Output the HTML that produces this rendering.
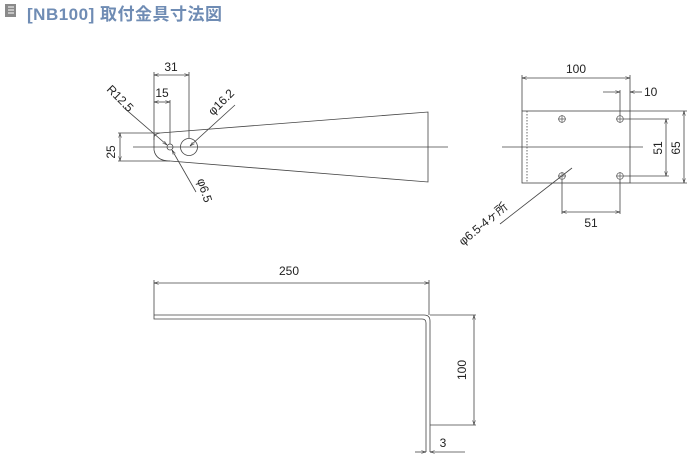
<!DOCTYPE html>
<html><head><meta charset="utf-8"><style>
html,body{margin:0;padding:0;background:#fff;width:688px;height:455px;overflow:hidden}
.t{position:absolute;left:27px;top:0px;font:bold 17px "Liberation Sans","Noto Sans CJK JP",sans-serif;color:#6f8cb4;letter-spacing:0.5px}
svg{position:absolute;left:0;top:0}
text{font-family:"Liberation Sans","Noto Sans CJK JP",sans-serif;font-size:12px;fill:#222}
</style></head><body>
<svg width="688" height="455" viewBox="0 0 688 455">
<defs><marker id="a" viewBox="0 0 10 6" refX="10" refY="3" markerWidth="6" markerHeight="4" orient="auto-start-reverse"><path d="M0,0L10,3L0,6" fill="none" stroke="#333" stroke-width="1"/></marker></defs>
<g fill="#8a8a8a"><rect x="5" y="4" width="11" height="13"/></g>
<g stroke="#fff" stroke-width="1"><line x1="8" y1="7" x2="14" y2="7"/><line x1="8" y1="10" x2="14" y2="10"/><line x1="8" y1="13" x2="14" y2="13"/></g>
<g fill="none" stroke="#444" stroke-width="0.8">
<!-- top view -->
<line x1="133" y1="147" x2="448" y2="147"/>
<path d="M160,133 L428,112 L428,182 L170,161"/>
<path d="M160,133 Q154,134 154,138 L154,150 Q156,161 170,161"/>
<line x1="118" y1="133" x2="160" y2="133"/><line x1="118" y1="161" x2="170" y2="161"/>
<line x1="120" y1="133" x2="120" y2="161" marker-start="url(#a)" marker-end="url(#a)"/>
<line x1="154" y1="72" x2="154" y2="140"/><line x1="189" y1="72" x2="189" y2="138"/><line x1="170" y1="100" x2="170" y2="144"/>
<line x1="154" y1="75" x2="189" y2="75" marker-start="url(#a)" marker-end="url(#a)"/>
<line x1="154" y1="102" x2="170" y2="102" marker-start="url(#a)" marker-end="url(#a)"/>
<circle cx="170" cy="147" r="3"/><circle cx="189" cy="147" r="8.5"/>
<line x1="123" y1="107" x2="167" y2="145" marker-end="url(#a)"/>
<line x1="196" y1="192" x2="172" y2="150" marker-end="url(#a)"/>
<line x1="235" y1="105" x2="190" y2="146" marker-end="url(#a)"/>
<!-- side view -->
<rect x="522" y="111" width="108" height="72"/>
<line x1="527" y1="111" x2="527" y2="183" stroke-dasharray="1.5,1.5"/>
<line x1="502" y1="147" x2="643" y2="147"/>
<line x1="522" y1="75" x2="522" y2="111"/><line x1="630" y1="75" x2="630" y2="111"/>
<line x1="522" y1="78" x2="630" y2="78" marker-start="url(#a)" marker-end="url(#a)"/>
<line x1="620" y1="90" x2="620" y2="116"/>
<line x1="603" y1="92" x2="620" y2="92" marker-end="url(#a)"/><line x1="642" y1="92" x2="630" y2="92" marker-end="url(#a)"/>
<line x1="624" y1="119" x2="669" y2="119"/><line x1="624" y1="176" x2="669" y2="176"/>
<line x1="666" y1="119" x2="666" y2="176" marker-start="url(#a)" marker-end="url(#a)"/>
<line x1="630" y1="111" x2="687" y2="111"/><line x1="630" y1="183" x2="687" y2="183"/>
<line x1="684" y1="111" x2="684" y2="183" marker-start="url(#a)" marker-end="url(#a)"/>
<line x1="562" y1="180" x2="562" y2="214"/><line x1="620" y1="180" x2="620" y2="214"/>
<line x1="562" y1="212" x2="620" y2="212" marker-start="url(#a)" marker-end="url(#a)"/>
<line x1="500" y1="224" x2="572" y2="168"/>
<!-- front view -->
<path d="M154,315 L424,315 Q430,315 430,321 L430,452 M154,315 L154,319 L422,319 Q426,319 426,323 L426,452"/>
<line x1="154" y1="280" x2="154" y2="315"/><line x1="429" y1="280" x2="429" y2="315"/>
<line x1="154" y1="283" x2="429" y2="283" marker-start="url(#a)" marker-end="url(#a)"/>
<line x1="430" y1="315" x2="476" y2="315"/><line x1="430" y1="425" x2="476" y2="425"/>
<line x1="474" y1="315" x2="474" y2="425" marker-start="url(#a)" marker-end="url(#a)"/>
<line x1="415" y1="452" x2="426" y2="452" marker-end="url(#a)"/><line x1="465" y1="452" x2="430" y2="452" marker-end="url(#a)"/>
</g>
<g fill="none" stroke="#555" stroke-width="0.7">
<circle cx="562" cy="119" r="3.3"/><circle cx="620" cy="119" r="3.3"/><circle cx="562" cy="176" r="3.3"/><circle cx="620" cy="176" r="3.3"/>
<path d="M558,119h8M562,115v8M616,119h8M620,115v8M558,176h8M562,172v8M616,176h8M620,172v8"/>
</g>
<text x="171" y="71" text-anchor="middle">31</text>
<text x="162" y="97" text-anchor="middle">15</text>
<text transform="translate(115,152) rotate(-90)" text-anchor="middle">25</text>
<text transform="translate(106,90) rotate(45)">R12.5</text>
<text transform="translate(197,180) rotate(72)">φ6.5</text>
<text transform="translate(213,116) rotate(-45)">φ16.2</text>
<text x="576" y="73" text-anchor="middle">100</text>
<text x="644" y="96">10</text>
<text transform="translate(662,148) rotate(-90)" text-anchor="middle">51</text>
<text transform="translate(680,148) rotate(-90)" text-anchor="middle">65</text>
<text x="591" y="227" text-anchor="middle">51</text>
<text transform="translate(463,246) rotate(-40)">φ6.5-4ヶ所</text>
<text x="289" y="275" text-anchor="middle">250</text>
<text transform="translate(466,370) rotate(-90)" text-anchor="middle">100</text>
<text x="443" y="447" text-anchor="middle">3</text>
</svg>
<div class="t">[NB100] 取付金具寸法図</div>
</body></html>
